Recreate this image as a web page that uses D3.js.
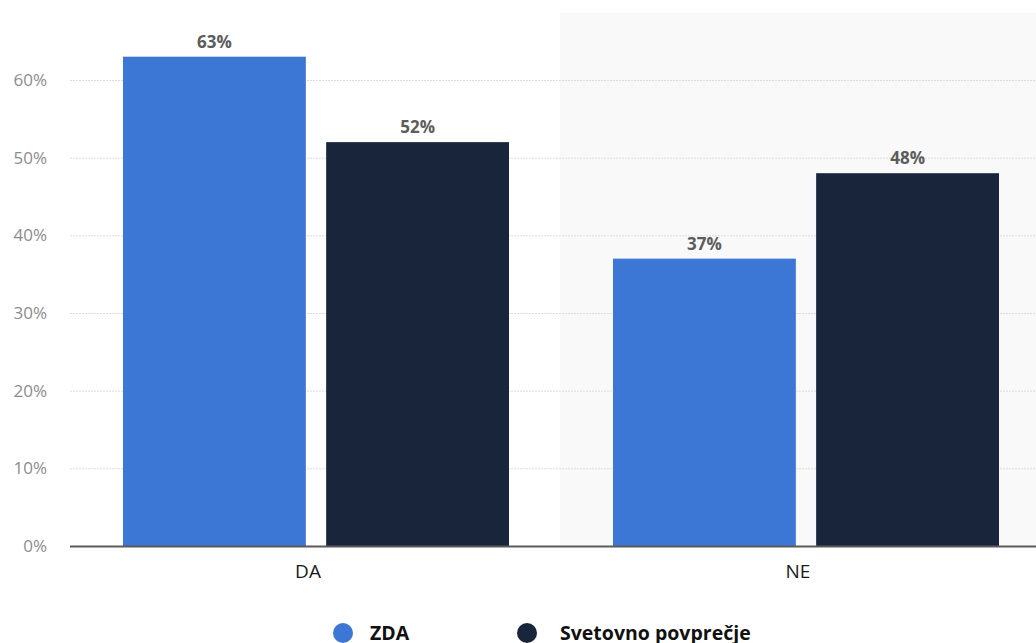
<!DOCTYPE html>
<meta charset="utf-8">
<style>
  body { margin: 0; background: #fff; }
  text { font-family: "Open Sans", "Noto Sans", sans-serif; }
</style>
<svg id="chart" width="1036" height="643"></svg>
<script src="https://d3js.org/d3.v7.min.js"></script>
<script>
// data
const categories = ["DA", "NE"];
const seriesNames = ["ZDA", "Svetovno povprečje"];
const seriesColors = ["#3d77d6", "#18253a"];
const zda = [63, 37];
const svet = [52, 48];
const yTicks = [0, 10, 20, 30, 40, 50, 60];

const values = [zda, svet];

const W = 1036;
const plotLeft = 70, plotRight = 1050, plotTop = 13, plotBottom = 546;

const svg = d3.select("#chart");

const x0 = d3.scaleBand()
  .domain(categories)
  .range([plotLeft, plotRight]);

const x1 = d3.scaleBand()
  .domain(seriesNames)
  .range([53, x0.bandwidth() - 51])
  .paddingInner(0.1);

const y = d3.scaleLinear()
  .domain([0, 60])
  .range([plotBottom, 80]);

// alternating background band for second category
svg.append("rect")
  .attr("x", x0("NE"))
  .attr("y", plotTop)
  .attr("width", x0.bandwidth())
  .attr("height", plotBottom - plotTop)
  .attr("fill", "#f9f9f9");

// grid lines
svg.append("g")
  .selectAll("line")
  .data(yTicks.filter(d => d > 0))
  .join("line")
    .attr("x1", plotLeft)
    .attr("x2", W)
    .attr("y1", d => y(d) + 0.5)
    .attr("y2", d => y(d) + 0.5)
    .attr("stroke", "#dcdcdc")
    .attr("stroke-dasharray", "2,1");

// y tick labels
svg.append("g")
  .selectAll("text")
  .data(yTicks)
  .join("text")
    .attr("x", 47)
    .attr("y", d => y(d) + 6)
    .attr("text-anchor", "end")
    .attr("font-size", 17)
    .attr("fill", "#8c8c8c")
    .text(d => d + "%");

// bars
const groups = svg.append("g")
  .selectAll("g")
  .data(categories)
  .join("g")
    .attr("transform", d => `translate(${x0(d)},0)`);

const cells = (c, i) => seriesNames.map((s, j) => ({ s, v: values[j][i], j }));

groups.selectAll("rect")
  .data(cells)
  .join("rect")
    .attr("x", d => x1(d.s))
    .attr("y", d => y(d.v))
    .attr("width", x1.bandwidth())
    .attr("height", d => plotBottom - y(d.v))
    .attr("fill", d => seriesColors[d.j]);

groups.selectAll("text.val")
  .data(cells)
  .join("text")
    .attr("class", "val")
    .attr("x", d => x1(d.s) + x1.bandwidth() / 2)
    .attr("y", d => y(d.v) - 9)
    .attr("text-anchor", "middle")
    .attr("font-size", 17)
    .attr("font-weight", "bold")
    .attr("fill", "#5c5c5c")
    .text(d => d.v + "%");

// x axis line
svg.append("line")
  .attr("x1", plotLeft)
  .attr("x2", W)
  .attr("y1", plotBottom + 0.5)
  .attr("y2", plotBottom + 0.5)
  .attr("stroke", "#5a5a5a")
  .attr("stroke-width", 2);

// category labels
svg.append("g")
  .selectAll("text")
  .data(categories)
  .join("text")
    .attr("x", d => x0(d) + x0.bandwidth() / 2 - 7)
    .attr("y", 578)
    .attr("text-anchor", "middle")
    .attr("font-size", 19)
    .attr("fill", "#1a1a1a")
    .text(d => d);

// legend
const legendX = [343, 527];
const legend = svg.append("g")
  .selectAll("g")
  .data(seriesNames)
  .join("g")
    .attr("transform", (d, i) => `translate(${legendX[i]},633)`);

legend.append("circle")
  .attr("r", 10)
  .attr("fill", (d, i) => seriesColors[i]);

legend.append("text")
  .attr("x", (d, i) => i === 0 ? 27 : 33)
  .attr("y", 7)
  .attr("font-size", 19.5)
  .attr("font-weight", "bold")
  .attr("fill", "#111")
  .text(d => d);
</script>
